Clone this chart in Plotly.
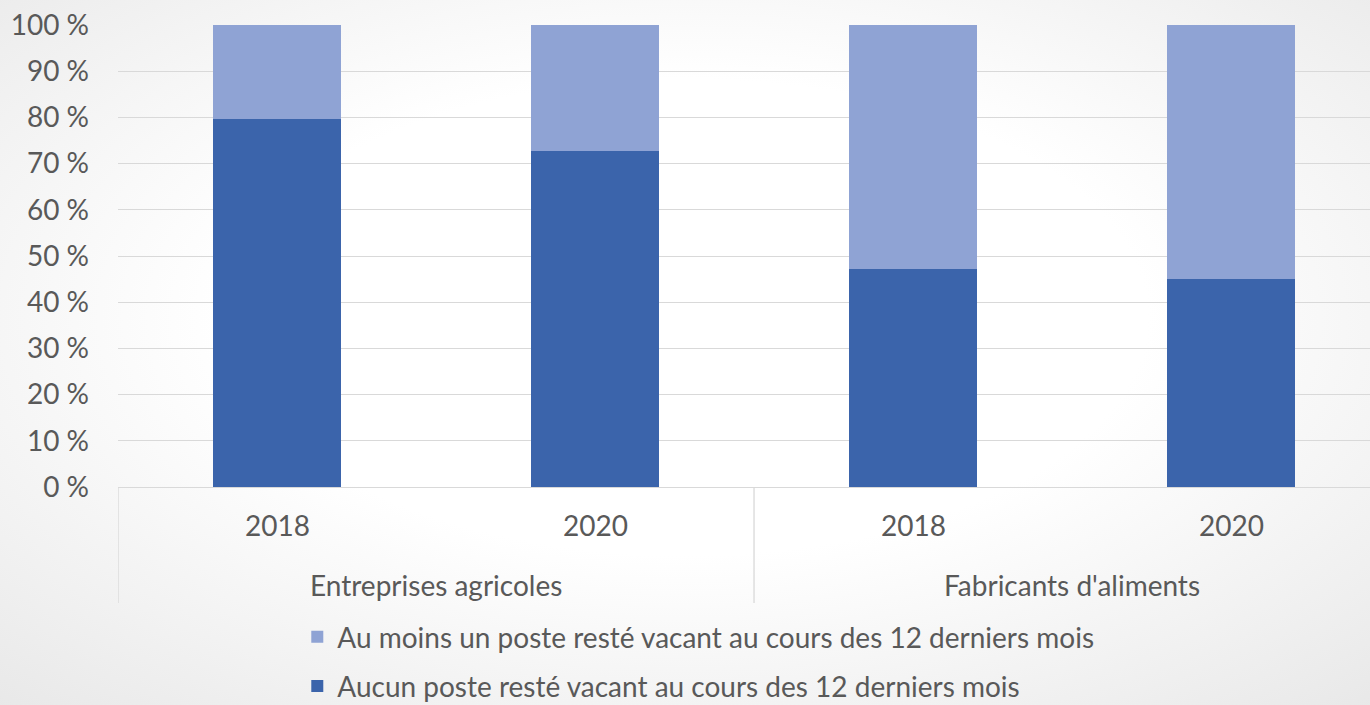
import base64
import plotly.graph_objects as go

groups = ["Entreprises agricoles", "Fabricants d'aliments"]
years = ["2018", "2020", "2018", "2020"]
aucun = [79.6, 72.7, 47.2, 45.0]
au_moins = [100 - v for v in aucun]
name_light = "Au moins un poste resté vacant au cours des 12 derniers mois"
name_dark = "Aucun poste resté vacant au cours des 12 derniers mois"

DARK = "#3B64AB"
LIGHT = "#8FA3D4"
GRID = "#D9D9D9"
TXT = "#595959"
FONT = "Lato"
FS = 28

W, H = 1370, 705
ML, MT, MB = 118, 25, 218
H_PLOT = float(H - MT - MB)
W_PLOT = float(W - ML)

xs = list(range(len(years)))

fig = go.Figure()
fig.add_trace(go.Bar(x=xs, y=aucun, name=name_dark, marker=dict(color=DARK, line=dict(width=0)),
                     width=0.4, legendrank=2, legendgroup="dark"))
fig.add_trace(go.Bar(x=xs, y=au_moins, name=name_light, marker=dict(color=LIGHT, line=dict(width=0)),
                     width=0.4, legendrank=1, legendgroup="light"))

def py(px_below):
    return -px_below / H_PLOT

# year labels
for i, yr in enumerate(years):
    fig.add_annotation(x=i, y=py(38), xref="x", yref="paper", text=yr, showarrow=False,
                       font=dict(family=FONT, size=FS, color=TXT), yanchor="middle")
# group labels
for gi, g in enumerate(groups):
    fig.add_annotation(x=gi * 2 + 0.5, y=py(98), xref="x", yref="paper", text=g, showarrow=False,
                       font=dict(family=FONT, size=FS, color=TXT), yanchor="middle")
# dividers
for xv in [-0.5, 1.5, 3.5]:
    fig.add_shape(type="line", x0=xv, x1=xv, xref="x", yref="paper", y0=0, y1=py(116),
                  line=dict(color=GRID, width=1.3))

# soft radial background
svg = (f'<svg xmlns="http://www.w3.org/2000/svg" width="{W}" height="{H}" viewBox="0 0 {W} {H}" '
       'preserveAspectRatio="none"><defs><radialGradient id="g" cx="50%" cy="45%" r="75%">'
       '<stop offset="0" stop-color="#ffffff"/><stop offset="0.45" stop-color="#ffffff"/>'
       '<stop offset="1" stop-color="#e8e8e8"/></radialGradient></defs>'
       f'<rect width="{W}" height="{H}" fill="url(#g)"/></svg>')
src = "data:image/svg+xml;base64," + base64.b64encode(svg.encode()).decode()
fig.add_layout_image(source=src, xref="paper", yref="paper", x=-ML / W_PLOT, y=1 + MT / H_PLOT,
                     sizex=W / W_PLOT, sizey=H / H_PLOT, sizing="stretch", layer="below",
                     xanchor="left", yanchor="top")

fig.update_layout(
    barmode="stack",
    width=W, height=H,
    margin=dict(l=ML, r=0, t=MT, b=MB, autoexpand=False),
    paper_bgcolor="#F4F4F4",
    plot_bgcolor="rgba(0,0,0,0)",
    font=dict(family=FONT, size=FS, color=TXT),
    showlegend=True,
    legend=dict(traceorder="grouped", tracegroupgap=10, xref="container", yref="container",
                x=0.217, y=0.132, xanchor="left", yanchor="top", bgcolor="rgba(0,0,0,0)",
                font=dict(family=FONT, size=FS, color=TXT), itemwidth=30),
    xaxis=dict(range=[-0.5, 3.437], showticklabels=False, showgrid=False, zeroline=False,
               showline=True, linecolor=GRID, linewidth=1.3),
    yaxis=dict(range=[0, 100], dtick=10, ticksuffix=" %", showgrid=True, gridcolor=GRID,
               gridwidth=1.3, zeroline=False, ticklabelstandoff=28,
               tickfont=dict(family=FONT, size=FS, color=TXT)),
)

fig.write_html("out.html", config={"displayModeBar": False},
               post_script="document.body.style.margin='0';")
